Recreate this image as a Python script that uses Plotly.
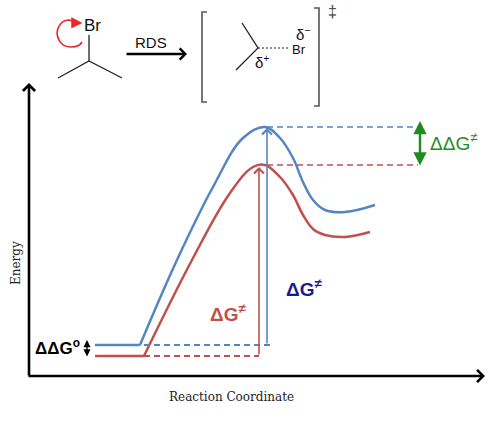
import plotly.graph_objects as go

# ---------------- data (diagram units; y axis is reversed so larger y = lower energy) -------------
# energy profile of the first substrate (blue) and second substrate (red)
blue_x = [140, 177, 213, 243, 265, 280, 293, 303, 313, 325, 345, 375]
blue_y = [345, 260, 187, 138, 127, 138, 158, 182, 200, 210, 212, 205]
red_x = [144, 192, 230, 253, 265, 280, 293, 303, 313, 325, 345, 370]
red_y = [356, 260, 193, 167, 165, 177, 195, 215, 229, 235, 237, 232]

plateau_start = 95          # reactant plateau starts here
blue_react = blue_y[0]      # reactant energy levels
red_react = red_y[0]
blue_ts = min(blue_y)       # transition-state levels
red_ts = min(red_y)
blue_arrow_x = 267          # position of the ΔG‡ arrows
red_arrow_x = 259
ts_dash_end = 418           # end of dashed TS guide lines
ddg_x = 420                 # ΔΔG‡ double-arrow
ddg0_x = 87                 # ΔΔG° double-arrow

# axes frame
origin = (29, 376)
y_tip = 83
x_tip = 485

# molecule sketch (reactant)
bond_x = [58, 89, 122, None, 89, 89]
bond_y = [78, 61, 78, None, 61, 35]
curl_path = "M 82,42 C 78,49 63,49 59,40 C 54,31 60,20 69,20 L 73,21"
curl_head = "M 71.5,17.5 L 82,23 L 71.5,28 Z"
# transition-state sketch
ts_bond_x = [242, 258, 236]
ts_bond_y = [23, 48, 70]
ts_dash_x = [258, 290]
ts_dash_y = [48, 48]
lbr_x = [207, 202, 202, 207]
lbr_y = [12, 12, 102, 102]
rbr_x = [314, 319, 319, 314]
rbr_y = [8, 8, 106, 106]

BLUE = "#5585c2"
RED = "#c0504d"
GREEN = "#1f8c1f"
NAVY = "#1a1a94"
SANS = "Liberation Sans, Arial, sans-serif"
SERIF = "DejaVu Serif, serif"

fig = go.Figure()

def line(x, y, color, width, dash="solid", shape="linear"):
    fig.add_trace(go.Scatter(x=x, y=y, mode="lines", hoverinfo="skip", showlegend=False,
                             line=dict(color=color, width=width, dash=dash, shape=shape,
                                       smoothing=1.1 if shape == "spline" else None)))

# curves
line(blue_x, blue_y, BLUE, 2.5, shape="spline")
line(red_x, red_y, RED, 2.5, shape="spline")
# reactant plateaus
line([plateau_start, blue_x[0]], [blue_react, blue_react], BLUE, 2.5)
line([plateau_start, red_x[0]], [red_react, red_react], RED, 2.5)
# dashed guides at reactant level
line([blue_x[0] + 4, blue_arrow_x + 6], [blue_react, blue_react], BLUE, 2, dash="6px,4px")
line([red_x[0], red_arrow_x], [red_react, red_react], RED, 2, dash="6px,4px")
# dashed guides at TS level
line([blue_arrow_x, ts_dash_end], [blue_ts, blue_ts], BLUE, 1.6, dash="6px,4px")
line([blue_arrow_x, ts_dash_end], [red_ts, red_ts], RED, 1.6, dash="6px,4px")

# molecule sketch
line(bond_x, bond_y, "#222", 1.3)
line(ts_bond_x, ts_bond_y, "#222", 1.3)
line(ts_dash_x, ts_dash_y, "#222", 1.2, dash="2px,2px")
line(lbr_x, lbr_y, "#555", 1.6)
line(rbr_x, rbr_y, "#555", 1.6)

shapes = [
    dict(type="path", path=curl_path, xref="x", yref="y", line=dict(color="#e8262b", width=1.6)),
    dict(type="path", path=curl_head, xref="x", yref="y", line=dict(color="#e8262b", width=0.5),
         fillcolor="#e8262b"),
]

def arrow(x, y, ax, ay, color, width, head=4, size=1.0, side="end"):
    return dict(x=x, y=y, ax=ax, ay=ay, xref="x", yref="y", axref="x", ayref="y", text="",
                showarrow=True, arrowhead=head, startarrowhead=head, arrowsize=size,
                startarrowsize=size, arrowwidth=width, arrowcolor=color, arrowside=side,
                standoff=0, startstandoff=0)

def label(x, y, text, size, color="#000", family=SANS, angle=0):
    return dict(x=x, y=y, xref="x", yref="y", text=text, showarrow=False, textangle=angle,
                font=dict(size=size, color=color, family=family), xanchor="center", yanchor="middle")

annotations = [
    # axes
    arrow(origin[0], y_tip, origin[0], origin[1] + 1, "#000", 2.6, head=4, size=0.9),
    arrow(x_tip, origin[1], origin[0] - 2, origin[1], "#000", 2.6, head=4, size=0.9),
    # ΔG‡ arrows
    arrow(blue_arrow_x, blue_ts + 1, blue_arrow_x, blue_react, BLUE, 1.6, head=4, size=1.2),
    arrow(red_arrow_x, red_ts + 2, red_arrow_x, red_react, RED, 1.6, head=4, size=1.2),
    # ΔΔG‡ double arrow
    arrow(ddg_x, blue_ts - 6, ddg_x, red_ts + 2, GREEN, 2.4, head=2, size=1.1, side="end+start"),
    # ΔΔG° double arrow
    arrow(ddg0_x, blue_react - 5, ddg0_x, red_react + 2, "#000", 1.3, head=2, size=1.1, side="end+start"),
    # reaction arrow
    arrow(187, 54, 125, 54, "#000", 2.4, head=4, size=0.9),
    # texts
    label(16, 263, "Energy", 12, "#222", SERIF, -90),
    label(231, 397, "Reaction Coordinate", 12, "#222", SERIF),
    label(453, 142, "ΔΔG<sup>≠</sup>", 19, GREEN),
    label(228, 313, "<b>ΔG<sup>≠</sup></b>", 19, RED),
    label(304, 288, "<b>ΔG<sup>≠</sup></b>", 19, NAVY),
    label(57, 347, "<b>ΔΔG<sup>o</sup></b>", 17, "#000"),
    label(92, 25, "Br", 17, "#111"),
    label(151, 42, "RDS", 15, "#111"),
    label(299, 49, "Br", 13, "#111"),
    label(303, 33, "δ<sup>−</sup>", 15, "#111"),
    label(262, 61, "δ<sup>+</sup>", 15, "#111"),
    label(332, 11, "‡", 16, "#444"),
]

fig.update_layout(
    width=500, height=426, margin=dict(l=0, r=0, t=0, b=0),
    paper_bgcolor="white", plot_bgcolor="white",
    xaxis=dict(range=[0, 500], visible=False, fixedrange=True),
    yaxis=dict(range=[426, 0], visible=False, fixedrange=True),
    shapes=shapes, annotations=annotations, showlegend=False,
)

fig.write_html("out.html", config={"displayModeBar": False},
               post_script="document.body.style.margin='0';document.body.style.overflow='hidden';")
